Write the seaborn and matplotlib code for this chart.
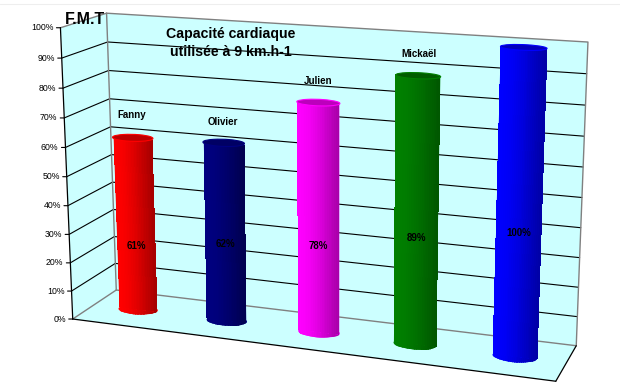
import numpy as np
import seaborn as sns
import matplotlib
matplotlib.use("Agg")
import matplotlib.pyplot as plt
from matplotlib.colors import LinearSegmentedColormap
from matplotlib.lines import Line2D
from matplotlib.patches import Ellipse, Rectangle
from matplotlib.transforms import Transform

names = ["Fanny", "Olivier", "Julien", "Mickaël", "Sujet 5"]
values = [61, 62, 78, 89, 100]
pct_labels = ["61%", "62%", "78%", "89%", "100%"]
show_name = [True, True, True, True, False]
bar_light = ["#ff0000", "#000080", "#ff00ff", "#008000", "#0000ff"]
bar_dark = ["#a80000", "#000050", "#a800a8", "#005800", "#0000a8"]
cap_color = ["#bc0000", "#000064", "#bc00bc", "#005c00", "#0000bc"]
y_ticks = list(range(0, 101, 10))

W, H = 620, 390
sns.set_theme(style="white")
plt.rcParams["font.family"] = ["Liberation Sans", "DejaVu Sans"]

# Camera fitted on the corners of the box, (category, value, depth) -> pixel
world = np.array([[-.5, 0, 0], [-.5, 100, 0], [-.5, 100, 1], [-.5, 0, 1],
                  [4.5, 100, 1], [4.5, 0, 1], [4.5, 0, 0]], dtype=float)
pixel = np.array([[72, 319], [61, 28], [106, 13], [117, 290],
                  [588, 42], [576, 346], [556, 381]], dtype=float)
A, b = [], []
for (X, V, D), (u, v) in zip(world, pixel):
    A.append([X, V, D, 1, 0, 0, 0, 0, -u*X, -u*V, -u*D])
    A.append([0, 0, 0, 0, X, V, D, 1, -v*X, -v*V, -v*D])
    b += [u, v]
cam = np.append(np.linalg.lstsq(np.array(A), np.array(b), rcond=None)[0], 1).reshape(3, 4)


class Plane(Transform):
    """One plane of the box, seen through the camera."""
    input_dims = 2
    output_dims = 2
    is_affine = False
    has_inverse = False

    def __init__(self, fixed, level):
        super().__init__()
        self.fixed = fixed
        self.level = level

    def transform_non_affine(self, xy):
        xy = np.asarray(xy, dtype=float)
        a, c = xy[:, 0], xy[:, 1]
        k = np.full(len(xy), self.level)
        if self.fixed == "x":
            pts = (k, c, a)
        elif self.fixed == "v":
            pts = (a, k, c)
        else:
            pts = (a, c, k)
        h = cam @ np.column_stack([*pts, np.ones(len(xy))]).T
        return np.column_stack([h[0] / h[2], H - h[1] / h[2]])


back = Plane("d", 1)
mid = Plane("d", 0.5)
front = Plane("d", 0)
left = Plane("x", -0.5)
floor = Plane("v", 0)

fig = plt.figure(figsize=(W / 100, H / 100), dpi=100, facecolor="white")
ax = fig.add_axes([0, 0, 1, 1])

sns.barplot(x=names, y=values, hue=names, palette=bar_light, saturation=1,
            width=0.43, legend=False, ax=ax)
for patch in ax.patches:
    patch.set_transform(mid)
    patch.set_zorder(4)
    patch.set_edgecolor("none")
ax.axis("off")

# walls and floor
wall = "#ccffff"
ax.add_patch(Rectangle((-.5, 0), 5, 100, transform=back, fc=wall, ec="none", zorder=1))
ax.add_patch(Rectangle((0, 0), 1, 100, transform=left, fc=wall, ec="none", zorder=1))
ax.add_patch(Rectangle((-.5, 0), 5, 1, transform=floor, fc=wall, ec="none", zorder=1))

for t in y_ticks[1:-1]:
    ax.plot([-.5, 4.5], [t, t], transform=back, color="black", lw=0.8, zorder=2)
    ax.plot([0, 1], [t, t], transform=left, color="black", lw=0.8, zorder=2)

grey = "#808080"
ax.plot([-.5, 4.5, 4.5], [100, 100, 0], transform=back, color=grey, lw=1, zorder=2)
ax.plot([-.5, -.5], [0, 100], transform=back, color=grey, lw=1, zorder=2)
ax.plot([-.5, 4.5], [0, 0], transform=back, color=grey, lw=1, zorder=2)
ax.plot([0, 1], [100, 100], transform=left, color=grey, lw=1, zorder=2)
ax.plot([0, 1], [0, 0], transform=left, color=grey, lw=1, zorder=2)
ax.plot([-.5, 4.5], [0, 0], transform=front, color="black", lw=0.9, zorder=2)
ax.plot([4.5, 4.5], [0, 1], transform=floor, color="black", lw=0.9, zorder=2)
ax.plot([0, 0], [0, 100], transform=left, color="black", lw=0.9, zorder=2)

# ticks of the value axis
for t in y_ticks:
    ax.annotate("", xy=(0, t), xycoords=left, xytext=(-4, 0), textcoords="offset pixels",
                arrowprops=dict(arrowstyle="-", color="black", lw=0.8, shrinkA=0, shrinkB=0))
    ax.annotate(f"{t}%", xy=(0, t), xycoords=left, xytext=(-7, 0), textcoords="offset pixels",
                ha="right", va="center", fontsize=6.3, color="black")

# cylinders: shading, bottom and top
half = 0.215
depth_r = 0.15
shade = np.interp(np.linspace(0, 1, 24), [0, .25, .55, 1], [0, .1, .4, 1]).reshape(1, -1)
for i, val in enumerate(values):
    cmap = LinearSegmentedColormap.from_list("c", [bar_light[i], bar_dark[i]])
    xs = np.linspace(i - half, i + half, 25)
    ax.pcolormesh(xs, [0, val], shade, cmap=cmap, vmin=0, vmax=1,
                  transform=mid, zorder=4.2, linewidth=0)
    foot = Ellipse((i, .5), 2 * half, 2 * depth_r, transform=floor, fc=bar_light[i], ec="none", zorder=3.5)
    ax.add_patch(foot)
    low = ax.pcolormesh(xs, [-12, 0], shade, cmap=cmap, vmin=0, vmax=1,
                        transform=mid, zorder=3.6, linewidth=0)
    low.set_clip_path(foot)
    ax.add_patch(Ellipse((i, .5), 2 * half, 2 * depth_r, transform=Plane("v", val),
                         fc=cap_color[i], ec=bar_light[i], lw=0.8, zorder=4.4))

# texts
pct_at = [23, 27, 30, 36, 41]
name_at = [69, 69, 85, 96, 0]
for i, val in enumerate(values):
    ax.text(i, pct_at[i], pct_labels[i], transform=mid, ha="center", va="center",
            fontsize=7, fontweight="bold", color="black", zorder=5)
    if show_name[i]:
        ax.text(i, name_at[i], names[i], transform=mid, ha="center", va="center",
                fontsize=7, fontweight="bold", color="black", zorder=5)

fig.text(231 / W, 1 - 34 / H, "Capacité cardiaque", ha="center", va="center",
         fontsize=10.2, fontweight="bold", color="black", zorder=6)
fig.text(231 / W, 1 - 52 / H, "utilisée à 9 km.h-1", ha="center", va="center",
         fontsize=10.2, fontweight="bold", color="black", zorder=6)
fig.text(85 / W, 1 - 19 / H, "F.M.T", ha="center", va="center",
         fontsize=11.5, fontweight="bold", color="black", zorder=6)

fig.add_artist(Line2D([0, 1], [1 - 3.5 / H] * 2, color="#eeeeee", lw=0.8))

fig.savefig("out.png", dpi=100, facecolor="white")
